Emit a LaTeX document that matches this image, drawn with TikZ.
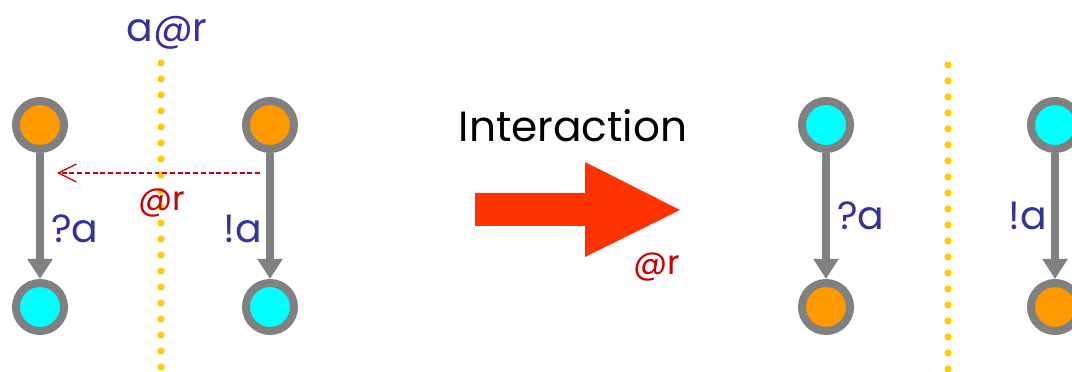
\documentclass[tikz,border=0pt]{standalone}
\usepackage{fontspec}
\setmainfont{Poppins}
\usetikzlibrary{arrows.meta}
\definecolor{procorange}{HTML}{FF9900}
\definecolor{proccyan}{HTML}{00FFFF}
\definecolor{linkgray}{HTML}{808080}
\definecolor{chanblue}{HTML}{333399}
\definecolor{locred}{HTML}{CC0000}
\definecolor{sepyellow}{HTML}{FFCC00}
\definecolor{bigred}{HTML}{FF3300}
\tikzset{
  state/.style={circle,draw=linkgray,line width=0.2cm,minimum size=1.2cm,inner sep=0pt},
  trans/.style={linkgray,line width=0.2cm,-{Triangle[length=0.5cm,width=0.6cm]}},
  sepline/.style={sepyellow,line width=0.18cm,line cap=round,dash pattern=on 0pt off 0.4cm},
  lbl/.style={text=chanblue,font=\fontsize{28}{32}\selectfont},
  loclbl/.style={text=locred,font=\fontsize{24}{28}\selectfont},
}

\begin{document}
\begin{tikzpicture}[x=0.025cm,y=-0.025cm]
\clip (0,0) rectangle (1072,372);
% before the interaction
\draw[sepline] (161,63) -- (161,372);
\node[lbl] (loc) at (167,33) {a@r};
\node[state,fill=procorange] (recvtop) at (40,125) {};
\node[state,fill=proccyan] (recvbot) at (40,307) {};
\node[state,fill=procorange] (sendtop) at (270,125) {};
\node[state,fill=proccyan] (sendbot) at (270,307) {};
\draw[trans] (recvtop) -- node[lbl,right,pos=0.6,inner sep=5pt] {?a} (recvbot);
\draw[trans] (sendtop) -- node[lbl,left,pos=0.6,inner sep=3pt] {!a} (sendbot);
\coordinate (msgfrom) at (260,173);
\coordinate (msgto) at (57,173);
\draw[locred,line width=0.9pt,dash pattern=on 3.5pt off 2pt,
  -{Straight Barb[length=0.45cm,width=0.45cm]}] (msgfrom) -- (msgto);
\node[loclbl] (atmsg) at (162,203) {@r};
% the step
\node[font=\fontsize{30}{34}\selectfont] (step) at (573,126) {Interaction};
\fill[bigred] (475,193) -- (585,193) -- (585,162) -- (680,210)
  -- (585,257) -- (585,226) -- (475,226) -- cycle;
\node[loclbl] (atstep) at (657,267) {@r};
% after the interaction
\draw[sepline] (948,65) -- (948,372);
\node[state,fill=proccyan] (recvtop2) at (826,125) {};
\node[state,fill=procorange] (recvbot2) at (826,307) {};
\node[state,fill=proccyan] (sendtop2) at (1055,125) {};
\node[state,fill=procorange] (sendbot2) at (1055,307) {};
\draw[trans] (recvtop2) -- node[lbl,right,pos=0.5,inner sep=5pt] {?a} (recvbot2);
\draw[trans] (sendtop2) -- node[lbl,left,pos=0.5,inner sep=3pt] {!a} (sendbot2);
\end{tikzpicture}
\end{document}
